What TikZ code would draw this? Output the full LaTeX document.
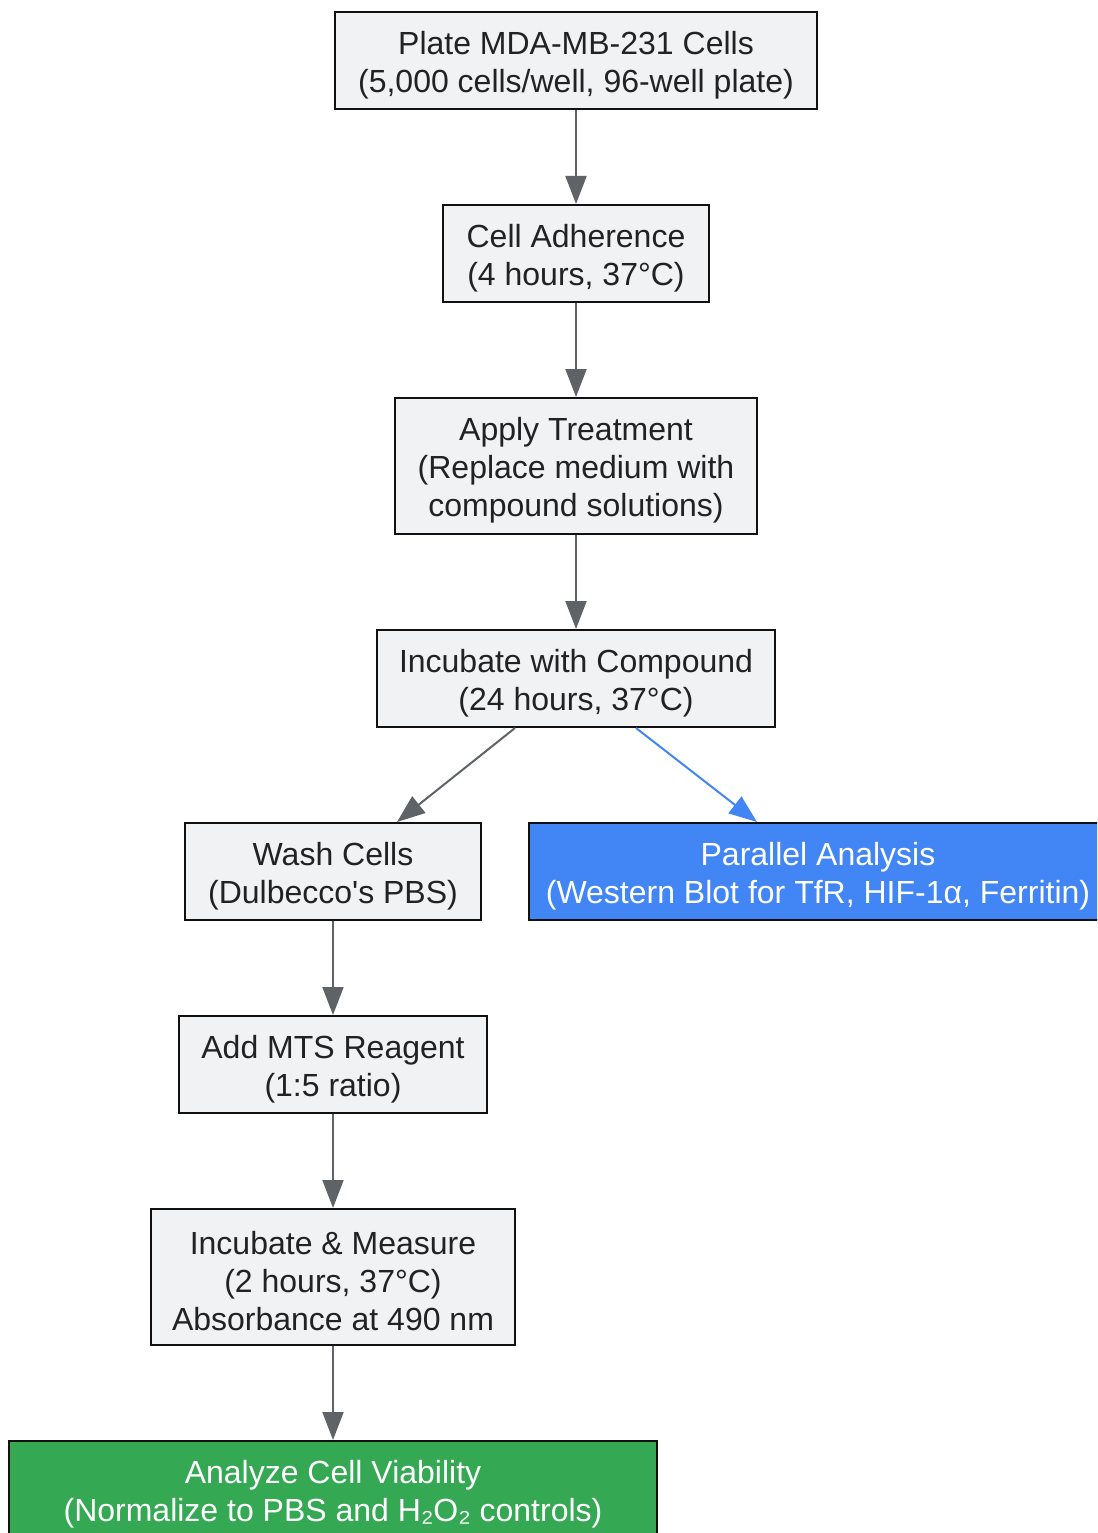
\documentclass[tikz,border=0pt]{standalone}
\usepackage{fontspec}
\setmainfont{Liberation Sans}[Ligatures=TeXOff]
\usetikzlibrary{arrows.meta,calc}
\definecolor{boxfill}{HTML}{F1F2F4}
\definecolor{boxdraw}{HTML}{111111}
\definecolor{txt}{HTML}{222222}
\definecolor{arrgray}{HTML}{5F6368}
\definecolor{gblue}{HTML}{4285F4}
\definecolor{ggreen}{HTML}{34A853}
\newcommand\topstrut{\rule{0pt}{32pt}}
\begin{document}
\begin{tikzpicture}[x=1pt,y=-1pt,
  stepbox/.style={draw=boxdraw,line width=2pt,fill=boxfill,text=txt,align=center,
    inner sep=0pt,font=\fontsize{32}{38}\selectfont},
  bluebox/.style={stepbox,fill=gblue,text=white},
  greenbox/.style={stepbox,fill=ggreen,text=white},
  flow/.style={draw=arrgray,line width=2pt,-{Triangle[width=21pt,length=28pt]}},
  bflow/.style={flow,draw=gblue,fill=gblue}]
\useasboundingbox (0,0) rectangle (1097,1533);
\clip (0,0) rectangle (1097,1533);
\node[stepbox,minimum width=482pt,minimum height=97pt] (b1) at (576,60.5) {\topstrut Plate MDA-MB-231 Cells\\(5,000 cells/well, 96-well plate)};
\node[stepbox,minimum width=266pt,minimum height=97pt] (b2) at (576,253.5) {\topstrut Cell Adherence\\(4 hours, 37°C)};
\node[stepbox,minimum width=362pt,minimum height=136pt] (b3) at (576,466) {\topstrut Apply Treatment\\(Replace medium with\\compound solutions)};
\node[stepbox,minimum width=398pt,minimum height=97pt] (b4) at (576,678.5) {\topstrut Incubate with Compound\\(24 hours, 37°C)};
\node[stepbox,minimum width=296pt,minimum height=97pt] (b5) at (333,871.5) {\topstrut Wash Cells\\(Dulbecco's PBS)};
\node[bluebox,minimum width=578pt,minimum height=97pt] (b6) at (818,871.5) {\topstrut Parallel Analysis\\(Western Blot for TfR, HIF-1α, Ferritin)};
\node[stepbox,minimum width=308pt,minimum height=97pt] (b7) at (333,1064.5) {\topstrut Add MTS Reagent\\(1:5 ratio)};
\node[stepbox,minimum width=364pt,minimum height=136pt] (b8) at (333,1277) {\topstrut Incubate \& Measure\\(2 hours, 37°C)\\Absorbance at 490 nm};
\node[greenbox,minimum width=648pt,minimum height=98pt] (b9) at (333,1490) {\topstrut Analyze Cell Viability\\(Normalize to PBS and H₂O₂ controls)};
\draw[flow,fill=arrgray] (b1) -- (b2);
\draw[flow,fill=arrgray] (b2) -- (b3);
\draw[flow,fill=arrgray] (b3) -- (b4);
\draw[flow,fill=arrgray] ([xshift=-61pt]b4.south) -- ([xshift=64pt]b5.north);
\draw[bflow] ([xshift=60pt]b4.south) -- ([xshift=-61pt]b6.north);
\draw[flow,fill=arrgray] (b5) -- (b7);
\draw[flow,fill=arrgray] (b7) -- (b8);
\draw[flow,fill=arrgray] (b8) -- (b9);
\end{tikzpicture}
\end{document}
